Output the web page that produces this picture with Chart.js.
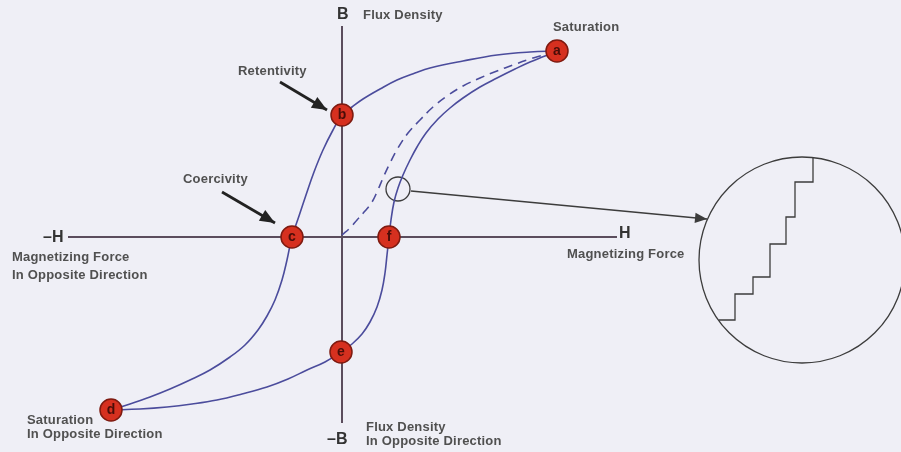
<!DOCTYPE html>
<html>
<head>
<meta charset="utf-8">
<script src="https://cdn.jsdelivr.net/npm/chart.js@4"></script>
<style>
  html, body { margin: 0; padding: 0; background: #efeff6; }
  #wrap { width: 901px; height: 452px; position: relative; }
</style>
</head>
<body>
<div id="wrap"><canvas id="loop"></canvas></div>
<script>
// H = magnetizing force, B = flux density (arbitrary units)
// a -> b -> c -> d
var downH = [21.5, 18.8, 15.5, 12.1, 8.8, 7.3, 5.5, 3.8, 2.1, 1.0, 0, -0.9, -1.9, -2.8, -3.6, -4.3, -5.0,
    -5.5, -6.0, -6.7, -7.5, -8.4, -9.7, -11.2, -13.2, -15.2, -17.2, -19.2, -21.2, -23.1];
var downB = [18.6, 18.5, 18.2, 17.6, 16.9, 16.4, 15.7, 14.8, 13.8, 13.0, 12.2, 10.7, 8.7, 6.5, 4.2, 2.1, 0,
    -2.3, -4.3, -6.3, -7.9, -9.3, -10.8, -12.0, -13.3, -14.3, -15.2, -16.0, -16.7, -17.3];

// d -> e -> f -> a
var upH = [-23.1, -20.2, -17.5, -15.0, -12.5, -10.0, -7.5, -5.4, -3.5, -1.7, -0.1, 1.0, 2.0, 2.8, 3.5, 4.0, 4.3, 4.5,
    4.7, 4.9, 5.2, 5.6, 6.1, 6.8, 7.5, 8.4, 9.6, 10.8, 12.1, 13.8, 15.5, 17.3, 18.8, 20.3, 21.5];
var upB = [-17.3, -17.2, -17.0, -16.7, -16.3, -15.7, -15.0, -14.2, -13.3, -12.5, -11.5, -10.7, -9.7, -8.5, -7.0, -5.3, -3.6, -1.8,
    0, 1.7, 3.5, 4.9, 6.2, 7.7, 9.0, 10.4, 11.8, 12.9, 13.9, 15.0, 15.9, 16.8, 17.5, 18.1, 18.6];

// initial magnetization, 0 -> a
var initH = [0, 0.8, 1.5, 2.3, 3.0, 3.5, 4.1, 4.8, 5.6, 6.6, 7.8, 9.1, 10.5, 12.1, 13.8, 15.5, 17.1, 18.5, 19.8, 21.0];
var initB = [0.2, 0.9, 1.7, 2.6, 3.5, 4.5, 5.9, 7.4, 8.9, 10.4, 11.7, 13.0, 14.1, 15.1, 15.9, 16.6, 17.2, 17.7, 18.1, 18.5];

var pointNames = ['a', 'b', 'c', 'd', 'e', 'f'];
var pointH = [21.5, 0, -5.0, -23.1, -0.1, 4.7];
var pointB = [18.6, 12.2, 0, -17.3, -11.5, 0];

var axisH = [-27.4, 27.5];
var axisB = [21.1, -18.6];

// magnified view: small circle on the curve and the stepped domain walls
var lensH = [5.6];
var lensB = [4.8];
var bigLensH = [46.0];
var bigLensB = [-2.3];
var stepH = [37.7, 39.3, 39.3, 41.1, 41.1, 42.8, 42.8, 44.4, 44.4, 45.3, 45.3, 47.1, 47.1];
var stepB = [-8.3, -8.3, -5.7, -5.7, -4.0, -4.0, -0.7, -0.7, 2.0, 2.0, 5.5, 5.5, 8.0];

var pointerH = [6.9, 36.5];
var pointerB = [4.6, 1.8];
var retentH = [-6.2, -1.5];
var retentB = [15.5, 12.7];
var coerH = [-12.0, -6.7];
var coerB = [4.5, 1.4];

function xy(hs, bs) {
    return hs.map(function (h, i) { return { x: h, y: bs[i] }; });
}

var curveColor = '#4b4c9c';
var axisColor = '#5b4d5d';
var textColor = '#505050';

var labelsPlugin = {
    id: 'labels',
    afterDatasetsDraw: function (chart) {
        var c = chart.ctx;
        var sx = chart.scales.x, sy = chart.scales.y;
        c.save();

        // arrow heads
        chart.data.datasets.forEach(function (ds) {
            if (!ds.arrow) return;
            var n = ds.data.length;
            var p1 = ds.data[n - 2], p2 = ds.data[n - 1];
            var x1 = sx.getPixelForValue(p1.x), y1 = sy.getPixelForValue(p1.y);
            var x2 = sx.getPixelForValue(p2.x), y2 = sy.getPixelForValue(p2.y);
            var ang = Math.atan2(y2 - y1, x2 - x1);
            var len = ds.arrow, w = ds.arrow * 0.42;
            c.fillStyle = ds.borderColor;
            c.beginPath();
            c.moveTo(x2, y2);
            c.lineTo(x2 - len * Math.cos(ang) + w * Math.sin(ang), y2 - len * Math.sin(ang) - w * Math.cos(ang));
            c.lineTo(x2 - len * Math.cos(ang) - w * Math.sin(ang), y2 - len * Math.sin(ang) + w * Math.cos(ang));
            c.closePath();
            c.fill();
        });

        // letters on the red markers
        c.fillStyle = '#4a0d08';
        c.font = 'bold 14px "Liberation Sans", Arial, sans-serif';
        c.textAlign = 'center';
        c.textBaseline = 'middle';
        pointNames.forEach(function (name, i) {
            c.fillText(name, sx.getPixelForValue(pointH[i]), sy.getPixelForValue(pointB[i]) + 0.5);
        });

        // annotations
        c.textAlign = 'left';
        c.fillStyle = textColor;
        c.font = 'bold 13px "Liberation Sans", Arial, sans-serif';
        c.letterSpacing = '0.2px';
        var notes = [
            ['Retentivity', 238, 71],
            ['Coercivity', 183, 179],
            ['Saturation', 553, 27],
            ['Flux Density', 363, 15],
            ['Magnetizing Force', 12, 257],
            ['In Opposite Direction', 12, 275],
            ['Magnetizing Force', 567, 254],
            ['Flux Density', 366, 427],
            ['In Opposite Direction', 366, 441],
            ['Saturation', 27, 420],
            ['In Opposite Direction', 27, 434]
        ];
        notes.forEach(function (n) { c.fillText(n[0], n[1], n[2]); });

        c.letterSpacing = '0px';
        c.fillStyle = '#333333';
        c.font = 'bold 16px "Liberation Sans", Arial, sans-serif';
        c.fillText('B', 337, 15);
        c.fillText('\u2013H', 43, 238);
        c.fillText('H', 619, 234);
        c.fillText('\u2013B', 327, 440);
        c.restore();
    }
};

var curve = { showLine: true, tension: 0.4, borderColor: curveColor, borderWidth: 1.6, pointRadius: 0 };

var ctx = document.getElementById('loop').getContext('2d');
var chart = new Chart(ctx, {
    type: 'scatter',
    data: {
        datasets: [
            {
                data: xy(pointH, pointB),
                pointRadius: 11,
                pointBackgroundColor: '#d6301f',
                pointBorderColor: '#7e1a10',
                pointBorderWidth: 1.5,
                showLine: false
            },
            Object.assign({ data: xy(downH, downB) }, curve),
            Object.assign({ data: xy(upH, upB) }, curve),
            Object.assign({ data: xy(initH, initB), borderDash: [9, 6] }, curve),
            {
                data: xy(lensH, lensB),
                pointRadius: 12, pointBackgroundColor: 'rgba(0,0,0,0)',
                pointBorderColor: '#3c3c3c', pointBorderWidth: 1.3
            },
            {
                data: xy(bigLensH, bigLensB),
                pointRadius: 103, pointBackgroundColor: 'rgba(0,0,0,0)',
                pointBorderColor: '#3c3c3c', pointBorderWidth: 1.3
            },
            {
                data: xy(stepH, stepB),
                showLine: true, tension: 0, borderColor: '#3c3c3c', borderWidth: 1.3, pointRadius: 0
            },
            {
                data: xy(pointerH, pointerB),
                showLine: true, borderColor: '#3c3c3c', borderWidth: 1.5, pointRadius: 0, arrow: 12
            },
            {
                data: xy(retentH, retentB),
                showLine: true, borderColor: '#222222', borderWidth: 2.8, pointRadius: 0, arrow: 15
            },
            {
                data: xy(coerH, coerB),
                showLine: true, borderColor: '#222222', borderWidth: 2.8, pointRadius: 0, arrow: 15
            },
            {
                data: xy(axisH, [0, 0]),
                showLine: true, borderColor: axisColor, borderWidth: 2, pointRadius: 0
            },
            {
                data: xy([0, 0], axisB),
                showLine: true, borderColor: axisColor, borderWidth: 2, pointRadius: 0
            }
        ]
    },
    options: {
        animation: false,
        responsive: true,
        maintainAspectRatio: false,
        layout: { padding: 0, autoPadding: false },
        plugins: {
            legend: { display: false },
            tooltip: { enabled: false }
        },
        events: [],
        scales: {
            x: { type: 'linear', min: -34.2, max: 55.9, display: false },
            y: { type: 'linear', min: -21.5, max: 23.7, display: false }
        }
    },
    plugins: [labelsPlugin]
});
</script>
</body>
</html>
